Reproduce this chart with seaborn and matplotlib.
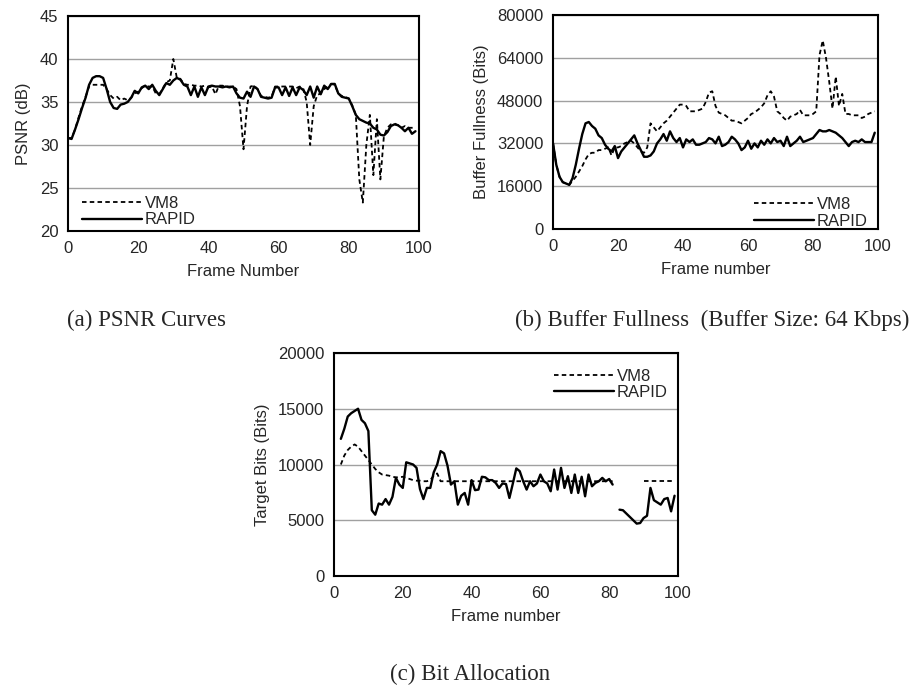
import numpy as np
import pandas as pd
import matplotlib
matplotlib.use("Agg")
import matplotlib.pyplot as plt
from matplotlib.lines import Line2D
import seaborn as sns

# ---------------- data ----------------
frames_ab = list(range(0, 100))

psnr_rapid = [30.8, 30.7, 31.8, 33.0, 34.3, 35.5, 37.0, 37.8, 38.0, 38.0,
              37.8, 36.5, 35.0, 34.3, 34.2, 34.7, 34.8, 35.0, 35.5, 36.3,
              36.0, 36.7, 36.9, 36.5, 37.0, 36.3, 35.8, 36.5, 37.2, 37.0,
              37.5, 37.8, 37.6, 37.0, 36.8, 35.8, 36.8, 35.6, 36.7, 35.8,
              36.8, 36.9, 36.8, 36.8, 36.7, 36.8, 36.7, 36.8, 36.0, 35.5,
              35.4, 36.2, 35.6, 36.8, 36.5, 35.6, 35.5, 35.4, 35.5, 36.7,
              36.7, 35.8, 36.7, 35.7, 36.7, 35.8, 36.7, 36.4, 35.8, 36.8,
              35.5, 36.8, 35.9, 36.9, 36.5, 37.1, 37.1, 36.0, 35.6, 35.5,
              35.4, 34.5, 33.5, 33.0, 32.8, 32.6, 32.5, 32.0, 31.8, 31.2,
              31.1, 31.5, 32.2, 32.4, 32.3, 32.0, 31.6, 32.0, 31.3, 31.6]

psnr_vm8 = [30.8, 30.8, 31.8, 33.2, 34.5, 35.6, 36.8, 37.0, 37.0, 37.0,
            37.0, 36.5, 35.8, 35.4, 35.6, 35.2, 35.4, 35.2, 35.5, 36.0,
            36.2, 36.6, 36.9, 36.8, 36.8, 36.0, 35.9, 36.6, 37.3, 37.5,
            40.0, 37.8, 37.7, 37.1, 37.0, 37.0, 36.9, 36.9, 36.8, 36.9,
            36.7, 36.8, 35.9, 36.9, 36.9, 36.8, 36.8, 36.8, 36.5, 34.5,
            29.5, 34.5, 36.8, 36.9, 36.5, 35.7, 35.6, 35.5, 35.6, 36.8,
            36.8, 36.8, 36.8, 36.8, 36.8, 36.6, 36.8, 36.6, 35.0, 30.0,
            34.5, 35.8, 36.0, 36.5, 36.8, 37.1, 37.0, 36.0, 35.7, 35.6,
            35.4, 34.6, 33.5, 26.0, 23.3, 30.0, 33.5, 26.5, 33.0, 26.0,
            31.0, 32.0, 32.4, 32.5, 32.3, 32.0, 32.2, 32.0, 32.0, 32.0]

buf_rapid = [32000, 24000, 19500, 17500, 17000, 16500, 19000, 24000, 30000, 35500,
             39500, 40000, 38500, 37500, 35000, 34000, 31500, 30000, 29000, 31000,
             26500, 29000, 30500, 32000, 33500, 35000, 32000, 29500, 27000, 27000,
             27500, 29000, 32000, 33500, 35500, 33000, 36500, 34000, 32500, 34000,
             30500, 33500, 32500, 33500, 31500, 31500, 32000, 32500, 34000, 33500,
             32000, 34500, 31000, 31500, 32500, 34500, 33500, 32000, 29500, 30500,
             33000, 30000, 32000, 30500, 33000, 31500, 33500, 32000, 34000, 32500,
             33000, 31000, 34500, 31000, 32000, 33000, 34500, 32500, 33000, 33500,
             34000, 35500, 37000, 36500, 36500, 37000, 36500, 36000, 35000, 34000,
             32500, 31000, 32500, 33000, 32500, 33500, 32500, 32500, 32500, 36000]

buf_vm8 = [32000, 24000, 19500, 17500, 17000, 16500, 18000, 19500, 21500, 23500,
           26000, 28000, 28500, 28500, 29500, 29500, 30000, 30500, 27500, 30500,
           30500, 31000, 32000, 32500, 33000, 32000, 30500, 29000, 28500, 30500,
           39500, 38000, 36500, 38000, 39500, 40500, 42000, 43500, 45000, 46500,
           46500, 46000, 44000, 44000, 44000, 44500, 45000, 47500, 51000, 51500,
           46000, 43500, 43000, 42500, 41500, 40500, 40500, 40000, 39500, 40500,
           41500, 43000, 43500, 44500, 45500, 47000, 50000, 51500, 49500, 44000,
           43000, 41500, 40500, 42000, 42500, 43000, 44500, 42500, 42500, 42500,
           43000, 44000, 65000, 70500, 64000, 55000, 45000, 57000, 46000, 50500,
           43000, 43000, 42500, 42500, 42500, 41500, 42000, 43000, 43500, 44000]

frames_c = list(range(2, 100))

bits_rapid = [12300, 13200, 14300, 14600, 14800, 15000, 14000, 13700, 13000, 5900,
              5500, 6500, 6400, 6900, 6400, 7100, 8800, 8200, 7900, 10200,
              10100, 10000, 9700, 7800, 6900, 7900, 7900, 9300, 10000, 11200,
              11000, 9900, 8200, 8500, 6400, 7200, 7450, 6400, 8600, 7700,
              7750, 8900, 8850, 8600, 8600, 8350, 7900, 8300, 8250, 7000,
              8300, 9650, 9400, 8500, 7750, 8500, 8050, 8300, 9100, 8500,
              8300, 7600, 9550, 7750, 9700, 7900, 8950, 7450, 9100, 7450,
              8900, 7150, 9100, 8050, 8350, 8500, 8800, 8500, 8700, 8200,
              np.nan, 5950, 5900, 5600, 5300, 5000, 4700, 4750, 5200, 5400,
              7900, 6800, 6600, 6400, 6900, 7000, 5800, 7200]

bits_vm8 = [10000, 10800, 11300, 11600, 11800, 11600, 11200, 10800, 10400, 10000,
            9600, 9300, 9100, 9050, 9000, 8900, 8850, 8850, 8900, 8800,
            8700, 8600, 8550, 8550, 8500, 8500, 8600, 9000, 9200, 8500,
            8500, 8500, 8500, 8500, 8500, 8500, 8500, 8500, 8500, 8500,
            8500, 8500, 8500, 8500, 8500, 8500, 8500, 8500, 8500, 8500,
            8500, 8500, 8500, 8500, 8500, 8500, 8500, 8500, 8500, 8500,
            8500, 8500, 8500, 8500, 8500, 8500, 8500, 8500, 8500, 8500,
            8500, 8500, 8500, 8500, 8500, 8500, 8500, 8500, 8500, 8500,
            np.nan, np.nan, np.nan, np.nan, np.nan, np.nan, np.nan, np.nan,
            8500, 8500, 8500, 8500, 8500, 8500, 8500, 8500, 8500, 8500]

xticks = [0, 20, 40, 60, 80, 100]
yticks_a = [20, 25, 30, 35, 40, 45]
yticks_b = [0, 16000, 32000, 48000, 64000, 80000]
yticks_c = [0, 5000, 10000, 15000, 20000]
series_names = ["VM8", "RAPID"]

# ---------------- style ----------------
sns.set_style("white")
plt.rcParams["font.family"] = ["Liberation Sans", "DejaVu Sans"]

fig = plt.figure(figsize=(9.12, 6.92), dpi=100)
ax_a = fig.add_axes([0.0746, 0.6662, 0.3848, 0.3107])
ax_b = fig.add_axes([0.6064, 0.6691, 0.3563, 0.3092])
ax_c = fig.add_axes([0.3662, 0.1676, 0.3772, 0.3223])

VM8_STYLE = dict(color="black", linewidth=1.3, linestyle=(0, (2.5, 1.8)))
RAPID_STYLE = dict(color="black", linewidth=1.7, linestyle="-")

FS = 12


def segments(x, y):
    """split into runs of non-NaN values so gaps stay gaps"""
    df = pd.DataFrame({"x": x, "y": y})
    df["seg"] = df["y"].isna().cumsum()
    df = df.dropna()
    return [g for _, g in df.groupby("seg")]


def draw(ax, x, y, style):
    for g in segments(x, y):
        sns.lineplot(data=g, x="x", y="y", ax=ax, legend=False,
                     estimator=None, sort=False, **style)


def style_axes(ax, yticks, ylabel, xlabel):
    ax.set_xlim(0, 100)
    ax.set_ylim(yticks[0], yticks[-1])
    ax.set_xticks(xticks)
    ax.set_yticks(yticks)
    ax.set_xticklabels([str(t) for t in xticks], fontsize=FS)
    ax.set_yticklabels([str(t) for t in yticks], fontsize=FS)
    ax.yaxis.grid(True, color="#a0a0a0", linewidth=1.0)
    ax.xaxis.grid(False)
    ax.set_axisbelow(True)
    for sp in ax.spines.values():
        sp.set_visible(True)
        sp.set_color("black")
        sp.set_linewidth(1.5)
    ax.tick_params(axis="both", direction="out", length=3, width=1,
                   color="black", pad=4, labelsize=FS)
    ax.set_xlabel(xlabel, fontsize=FS, labelpad=6)
    ax.set_ylabel(ylabel, fontsize=FS, labelpad=6)


def add_legend(ax, loc, anchor):
    handles = [Line2D([], [], **VM8_STYLE), Line2D([], [], **RAPID_STYLE)]
    ax.legend(handles, series_names, loc=loc, bbox_to_anchor=anchor,
              frameon=False, fontsize=FS, handlelength=3.6,
              handletextpad=0.2, labelspacing=0.1, borderaxespad=0.2)


# (a)
draw(ax_a, frames_ab, psnr_vm8, VM8_STYLE)
draw(ax_a, frames_ab, psnr_rapid, RAPID_STYLE)
style_axes(ax_a, yticks_a, "PSNR (dB)", "Frame Number")
add_legend(ax_a, "lower left", (0.01, -0.03))

# (b)
draw(ax_b, frames_ab, buf_vm8, VM8_STYLE)
draw(ax_b, frames_ab, buf_rapid, RAPID_STYLE)
style_axes(ax_b, yticks_b, "Buffer Fullness (Bits)", "Frame number")
add_legend(ax_b, "lower right", (1.0, -0.045))

# (c)
draw(ax_c, frames_c, bits_vm8, VM8_STYLE)
draw(ax_c, frames_c, bits_rapid, RAPID_STYLE)
style_axes(ax_c, yticks_c, "Target Bits (Bits)", "Frame number")
add_legend(ax_c, "upper right", (1.0, 0.975))

# captions
cap = dict(fontsize=16.5, family=["Liberation Serif", "DejaVu Serif"], ha="left", va="center")
fig.text(67 / 912, 1 - 320 / 692, "(a) PSNR Curves", **cap)
fig.text(515 / 912, 1 - 320 / 692, "(b) Buffer Fullness  (Buffer Size: 64 Kbps)", **cap)
fig.text(390 / 912, 1 - 674 / 692, "(c) Bit Allocation", **cap)

fig.savefig("out.png", dpi=100)
